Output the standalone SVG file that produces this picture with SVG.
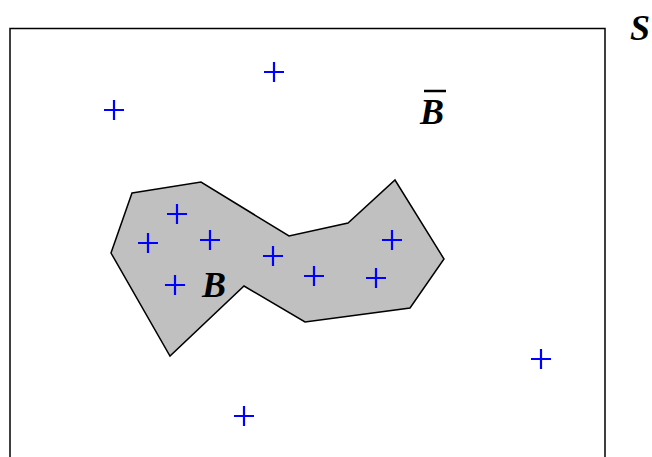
<svg xmlns="http://www.w3.org/2000/svg" width="652" height="457" viewBox="0 0 652 457">
<defs>
<style>
.lbl{font-family:"Liberation Serif","Times New Roman",serif;font-weight:bold;font-style:italic;font-size:36px;fill:#000}
.pt{stroke:#0000ff;stroke-width:2.2;fill:none}
</style>
<path id="plus" class="pt" d="M-10,0H10M0,-10V10"/>
</defs>
<rect id="S" x="10" y="28.5" width="595" height="440" fill="#fff" stroke="#000" stroke-width="1.5"/>
<g id="B">
<polygon points="132,193 201,182 289,236 348,223 395,180 444,259 410,308 305,322 244,286 170,356 111,253" fill="#c0c0c0" stroke="#000" stroke-width="1.5"/>
</g>
<g id="points">
<use href="#plus" x="274" y="72"/>
<use href="#plus" x="114" y="110"/>
<use href="#plus" x="177" y="214"/>
<use href="#plus" x="148" y="243"/>
<use href="#plus" x="210" y="240"/>
<use href="#plus" x="273" y="256"/>
<use href="#plus" x="175" y="285"/>
<use href="#plus" x="314" y="276"/>
<use href="#plus" x="376" y="278"/>
<use href="#plus" x="392" y="240"/>
<use href="#plus" x="541" y="359"/>
<use href="#plus" x="244" y="416"/>
</g>
<g id="labels">
<text class="lbl" x="630" y="40">S</text>
<text class="lbl" x="420" y="124">B</text>
<line x1="424" y1="91" x2="446" y2="91" stroke="#000" stroke-width="2.5"/>
<text class="lbl" x="202" y="297">B</text>
</g>
</svg>
